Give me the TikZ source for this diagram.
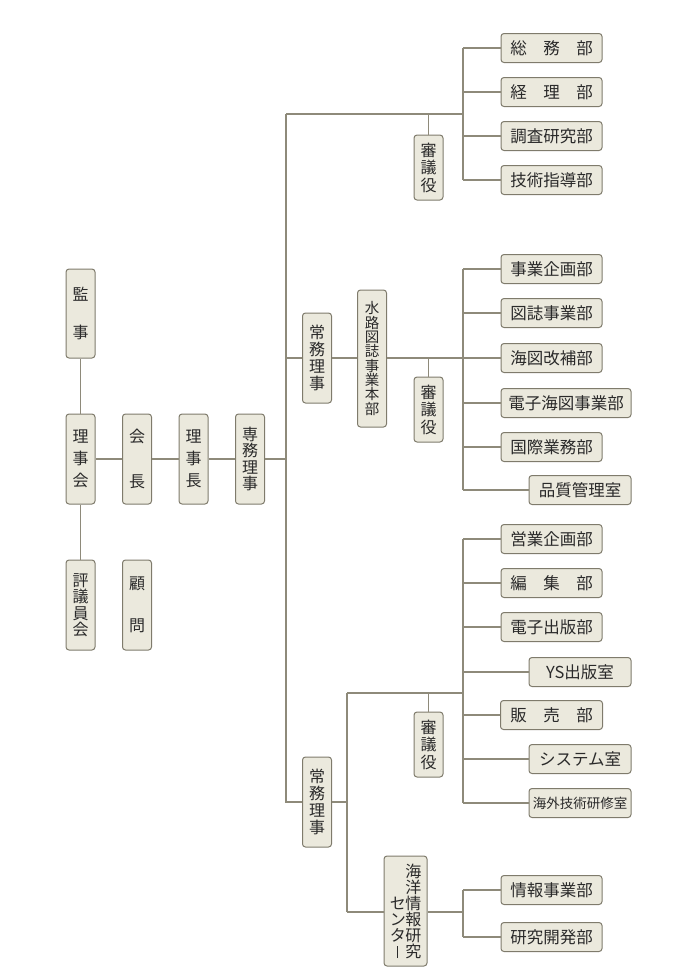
\documentclass[tikz,border=0pt]{standalone}
\usepackage{fontspec}
\newfontfamily\jp{Noto Sans CJK JP}
\definecolor{bg}{HTML}{EBE9DD}
\definecolor{bd}{HTML}{7F7B6C}
\definecolor{ln}{HTML}{8E8A7A}
\definecolor{tx}{HTML}{2A2A2A}
\newcommand{\pr}[2]{\makebox[15.5pt]{#1}\makebox[15.5pt]{#2}}
\begin{document}
\begin{tikzpicture}[x=1pt,y=-1pt,
  box/.style={draw=bd, fill=bg, line width=1pt, rounded corners=3pt, inner sep=0pt,
    text=tx, align=center, font=\jp\fontsize{16.5}{18}\selectfont},
  vs/.style={font=\jp\fontsize{16}{#1}\selectfont},
  vbox/.style={box, minimum width=29pt, minimum height=#1},
  hbox/.style={box, minimum height=29pt, minimum width=#1},
  ln/.style={draw=ln, line width=1.2pt}]
\useasboundingbox (0,0) rectangle (690,975);

% left part
\node[vbox=89pt, vs=38] (kanji) at (80.5,313.5) {監\\事};
\node[vbox=90pt, vs=22] (rijikai) at (80.5,459) {理\\事\\会};
\node[vbox=90pt, vs=45] (kaicho) at (137,459) {会\\長};
\node[vbox=90pt, vs=22] (rijicho) at (193.5,459) {理\\事\\長};
\node[vbox=90pt, vs=16.5] (senmu) at (250,459) {専\\務\\理\\事};
\node[vbox=90pt, vs=16.5] (hyogi) at (80.5,605) {評\\議\\員\\会};
\node[vbox=90pt, vs=42] (komon) at (137,605) {顧\\問};

\draw[ln] (kanji.south) -- (rijikai.north);
\draw[ln] (rijikai.south) -- (hyogi.north);
\draw[ln] (rijikai.east) -- (kaicho.west);
\draw[ln] (kaicho.east) -- (rijicho.west);
\draw[ln] (rijicho.east) -- (senmu.west);

% trunk
\coordinate (trT) at (286,114);
\coordinate (trB) at (286,803);
\draw[ln] (trT) -- (trB);
\draw[ln] (senmu.east) -- (senmu.east -| trT);

% top group
\coordinate (b1) at (463,114);
\node[vbox=65pt, vs=17.5] (sh1) at (428.5,167.5) {審\\議\\役};
\node[hbox=101pt] (g1) at (551.5,48) {総\hspace{1em}務\hspace{1em}部};
\node[hbox=101pt] (g2) at (551.5,92) {経\hspace{1em}理\hspace{1em}部};
\node[hbox=101pt] (g3) at (551.5,136) {調査研究部};
\node[hbox=101pt] (g4) at (551.5,180) {技術指導部};
\draw[ln] (trT) -- (b1);
\draw[ln] (sh1.north) -- (sh1.north |- b1);
\draw[ln] (g1.west -| b1) -- (g4.west -| b1);
\foreach \n in {g1,g2,g3,g4} \draw[ln] (\n.west) -- (\n.west -| b1);

% middle group
\node[vbox=90pt, vs=17] (jomu1) at (317,358) {常\\務\\理\\事};
\node[vbox=137pt, font=\jp\fontsize{14.5}{14.3}\selectfont] (suiro) at (372,358.5) {水\\路\\図\\誌\\事\\業\\本\\部};
\node[vbox=65pt, vs=17.5] (sh2) at (428.5,409.5) {審\\議\\役};
\coordinate (b2) at (463,358);
\node[hbox=101pt] (m1) at (551.5,269) {事業企画部};
\node[hbox=101pt] (m2) at (551.5,313) {図誌事業部};
\node[hbox=101pt] (m3) at (551.5,358) {海図改補部};
\node[hbox=130pt] (m4) at (566,403) {電子海図事業部};
\node[hbox=101pt] (m5) at (551.5,447) {国際業務部};
\node[hbox=102pt] (m6) at (580,490) {品質管理室};
\draw[ln] (jomu1.west -| trT) -- (jomu1.west);
\draw[ln] (jomu1.east) -- (suiro.west |- jomu1.east);
\draw[ln] (suiro.east |- b2) -- (b2);
\draw[ln] (sh2.north) -- (sh2.north |- b2);
\draw[ln] (m1.west -| b2) -- (m6.west -| b2);
\foreach \n in {m1,m2,m3,m4,m5,m6} \draw[ln] (\n.west) -- (\n.west -| b2);

% bottom group
\node[vbox=90pt, vs=17] (jomu2) at (317,802) {常\\務\\理\\事};
\coordinate (c1) at (347,693);
\coordinate (c2) at (463,693);
\node[vbox=65pt, vs=17.5] (sh3) at (428.5,744.5) {審\\議\\役};
\node[hbox=101pt] (s1) at (551.5,539) {営業企画部};
\node[hbox=101pt] (s2) at (551.5,583) {編\hspace{1em}集\hspace{1em}部};
\node[hbox=101pt] (s3) at (551.5,627) {電子出版部};
\node[hbox=102pt] (s4) at (580,672) {YS出版室};
\node[hbox=102pt] (s5) at (551.5,715) {販\hspace{1em}売\hspace{1em}部};
\node[hbox=102pt] (s6) at (580,759) {システム室};
\node[hbox=102pt, font=\jp\fontsize{13.5}{15}\selectfont] (s7) at (580,803) {海外技術研修室};
\draw[ln] (jomu2.west -| trT) -- (jomu2.west);
\draw[ln] (jomu2.east) -- (jomu2.east -| c1);
\draw[ln] (c1) -- (c2);
\draw[ln] (sh3.north) -- (sh3.north |- c1);
\draw[ln] (s1.west -| c2) -- (s7.west -| c2);
\foreach \n in {s1,s2,s3,s4,s5,s6,s7} \draw[ln] (\n.west) -- (\n.west -| c2);

% kaiyo center
\node[box, minimum width=43pt, minimum height=110pt, font=\jp\fontsize{16}{16}\selectfont] (kaiyo) at (405.5,911)
  {\pr{}{海}\\\pr{}{洋}\\\pr{セ}{情}\\\pr{ン}{報}\\\pr{タ}{研}\\\pr{\rule[-1pt]{0.9pt}{12pt}}{究}};
\coordinate (d1) at (347,912);
\coordinate (d2) at (463,912);
\node[hbox=101pt] (k1) at (551.5,890) {情報事業部};
\node[hbox=101pt] (k2) at (551.5,937) {研究開発部};
\draw[ln] (c1) -- (d1);
\draw[ln] (d1) -- (kaiyo.west |- d1);
\draw[ln] (kaiyo.east |- d2) -- (d2);
\draw[ln] (k1.west -| d2) -- (k2.west -| d2);
\foreach \n in {k1,k2} \draw[ln] (\n.west) -- (\n.west -| d2);
\end{tikzpicture}
\end{document}
